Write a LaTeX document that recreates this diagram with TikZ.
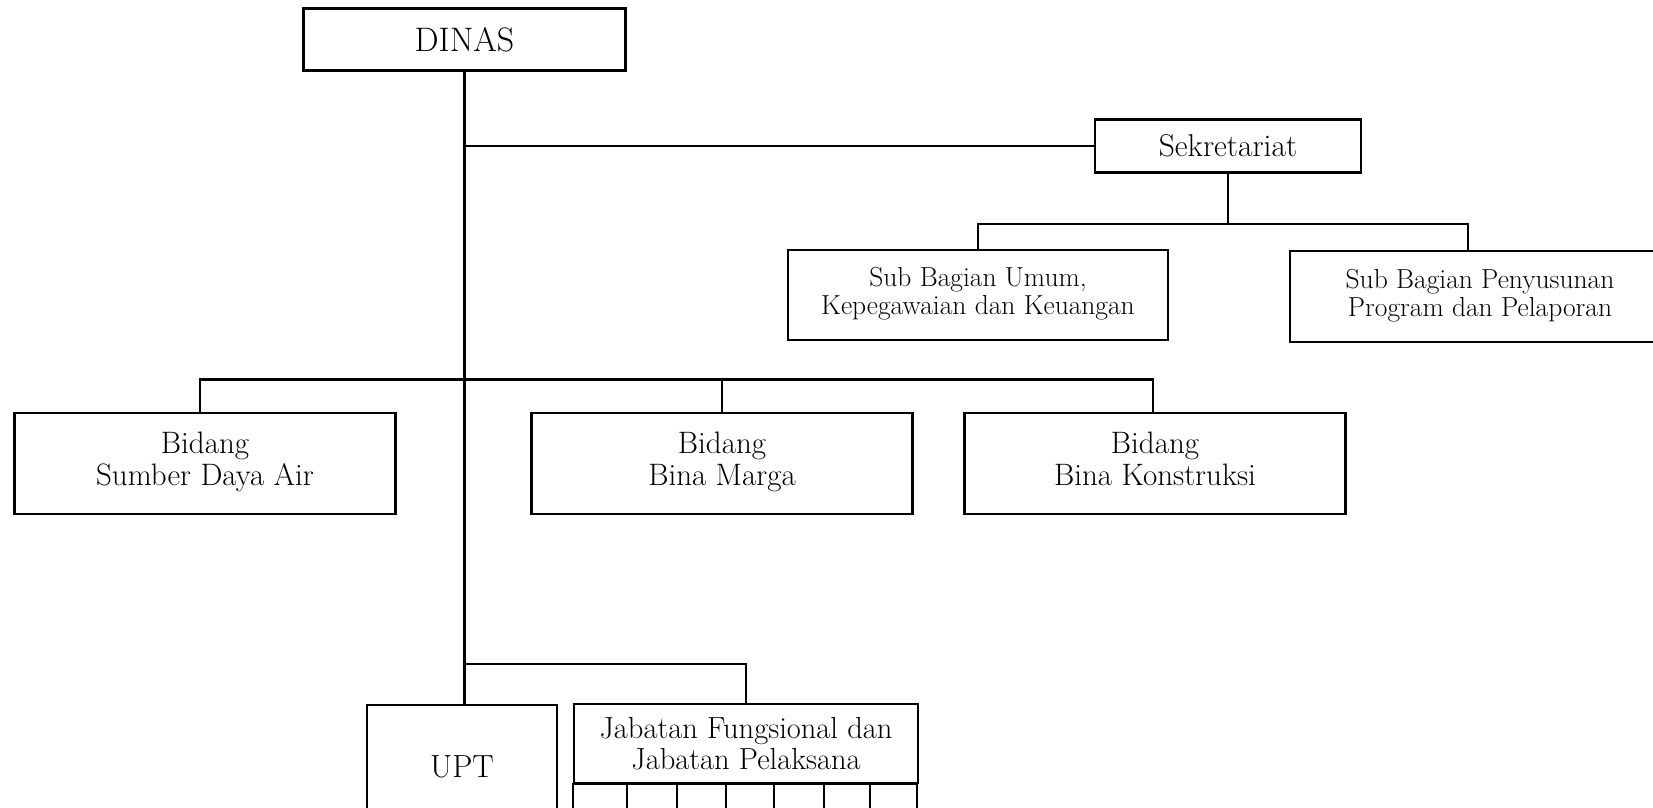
\documentclass[tikz,border=0pt]{standalone}
\usepackage{tikz}
\usepackage{amsmath}
\usepackage{xcolor}
\tikzset{
        orgbox/.style={draw, line width=2.2pt, align=center, inner sep=0pt},
        link/.style={line width=2.2pt}
}
\begin{document}
\begin{tikzpicture}[x=1pt,y=-1pt]
        \useasboundingbox (0,0) rectangle (1653,807);
        \clip (0,0) rectangle (1653,807);
        \node[orgbox, minimum width=322pt, minimum height=62pt, font=\fontsize{34}{38}\selectfont] (dinas) at (464.5,39.5) {DINAS};
        \node[orgbox, minimum width=266pt, minimum height=53pt, font=\fontsize{31.5}{34}\selectfont] (sek) at (1228,146) {Sekretariat};
        \node[orgbox, minimum width=380pt, minimum height=90pt, font=\fontsize{27.5}{28}\selectfont] (sbu) at (978,295) {Sub Bagian Umum,\strut\\Kepegawaian dan Keuangan\strut};
        \node[orgbox, minimum width=380pt, minimum height=91pt, font=\fontsize{27.5}{28}\selectfont] (sbp) at (1480,296.5) {Sub Bagian Penyusunan\strut\\Program dan Pelaporan\strut};
        \node[orgbox, minimum width=381pt, minimum height=101pt, font=\fontsize{31}{32}\selectfont] (sda) at (205,463.5) {Bidang\strut\\Sumber Daya Air\strut};
        \node[orgbox, minimum width=381pt, minimum height=101pt, font=\fontsize{31}{32}\selectfont] (marga) at (722,463.5) {Bidang\strut\\Bina Marga\strut};
        \node[orgbox, minimum width=381pt, minimum height=101pt, font=\fontsize{31}{32}\selectfont] (kons) at (1155,463.5) {Bidang\strut\\Bina Konstruksi\strut};
        \node[orgbox, minimum width=190pt, minimum height=124pt, font=\fontsize{32}{36}\selectfont] (upt) at (462,767) {UPT};
        \node[orgbox, minimum width=344pt, minimum height=79pt, font=\fontsize{30.5}{29}\selectfont] (jab) at (746,743.5) {\rule{0pt}{30pt}Jabatan Fungsional dan\strut\\Jabatan Pelaksana\strut};
        \draw[link] (jab.south west) rectangle ++(344,40);
        \foreach \dx in {53.7,104.3,152.7,201,251,296.7}
                \draw[link] ([xshift=\dx pt]jab.south west) -- ++(0,40);
        \path (sek.south) ++(0,50) coordinate (sekbus);
        \coordinate (bidbus) at (464.5,379.5);
        \coordinate (jfbus) at (464.5,664);
        \draw[link] (dinas.south) -- (dinas.south |- upt.north);
        \draw[link] (dinas.south |- sek.west) -- (sek.west);
        \draw[link] (sek.south) -- (sekbus);
        \draw[link] (sbu.north) |- (sekbus) -| ([xshift=-12pt]sbp.north);
        \draw[link] ([xshift=-5pt]sda.north) |- (bidbus) -| ([xshift=-2pt]kons.north);
        \draw[link] (marga.north) -- (marga.north |- bidbus);
        \draw[link] (jfbus) -| (jab.north);
\end{tikzpicture}
\end{document}
